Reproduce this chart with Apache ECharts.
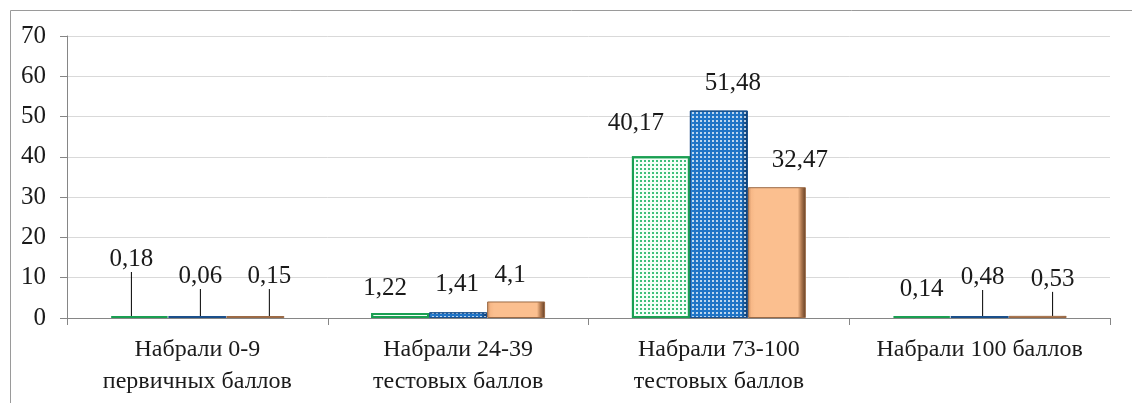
<!DOCTYPE html>
<html>
<head>
<meta charset="utf-8">
<script src="https://cdn.jsdelivr.net/npm/echarts@6/dist/echarts.min.js"></script>
<style>
html,body{margin:0;padding:0;background:#fff;}
#chart{width:1132px;height:403px;}
</style>
</head>
<body>
<div id="chart"></div>
<script>
// ---- data ----
const categories = ['Набрали 0-9\nпервичных баллов', 'Набрали 24-39\nтестовых баллов', 'Набрали 73-100\nтестовых баллов', 'Набрали 100 баллов'];
const seriesGreen = [0.18, 1.22, 40.17, 0.14];
const seriesBlue = [0.06, 1.41, 51.48, 0.48];
const seriesOrange = [0.15, 4.1, 32.47, 0.53];
const yTicks = [0, 10, 20, 30, 40, 50, 60, 70];

// ---- label placement (style, not data) ----
const labelOffsets = [
  [[-8,-39],[-15,-7],[-25,-15],[0,-9]],
  [[3,-22],[-1,-10],[14,-10],[3,-21]],
  [[14,-22],[-6,-9],[23,-9],[15,-19]]
];
const labelLines = [
  [true,false,false,false],
  [true,false,false,true],
  [true,false,false,true]
];

const FONT = '"Liberation Serif", "Times New Roman", serif';
const fmt = v => String(v).replace('.', ',');

function mkData(values, si) {
  return values.map((v, i) => ({
    value: v,
    labelLine: { show: labelLines[si][i] }
  }));
}

const chart = echarts.init(document.getElementById('chart'), null, { renderer: 'canvas' });

const commonLabel = {
  show: true,
  position: 'top',
  distance: 5,
  fontFamily: FONT,
  fontSize: 25,
  color: '#1a1a1a',
  formatter: p => fmt(p.value)
};
const commonLabelLine = { show: false, lineStyle: { color: '#000', width: 1 } };

const option = {
  animation: false,
  backgroundColor: '#ffffff',
  graphic: [
    { type: 'line', shape: { x1: 10.5, y1: 10.5, x2: 1132, y2: 10.5 }, style: { stroke: '#9a9a9a', lineWidth: 1 } },
    { type: 'line', shape: { x1: 10.5, y1: 10.5, x2: 10.5, y2: 403 }, style: { stroke: '#9a9a9a', lineWidth: 1 } }
  ],
  grid: { left: 67, right: 22, top: 36, bottom: 85, containLabel: false },
  xAxis: {
    type: 'category',
    data: categories,
    axisLine: { lineStyle: { color: '#868686', width: 1 } },
    axisTick: { show: true, alignWithLabel: false, length: 7, lineStyle: { color: '#868686' } },
    axisLabel: { fontFamily: FONT, fontSize: 24, color: '#1a1a1a', margin: 16, lineHeight: 32, interval: 0 }
  },
  yAxis: {
    type: 'value',
    min: yTicks[0],
    max: yTicks[yTicks.length - 1],
    interval: yTicks[1] - yTicks[0],
    axisLine: { show: true, lineStyle: { color: '#868686', width: 1 } },
    axisTick: { show: true, length: 7, lineStyle: { color: '#868686' } },
    axisLabel: { fontFamily: FONT, fontSize: 25, color: '#1a1a1a', margin: 21 },
    splitLine: { lineStyle: { color: '#d9d9d9', width: 1 } }
  },
  labelLayout: function (params) {
    const o = labelOffsets[params.seriesIndex][params.dataIndex];
    return { dx: o[0], dy: o[1] };
  },
  series: [
    {
      type: 'bar',
      name: 'green',
      data: mkData(seriesGreen, 0),
      barGap: '0%',
      barCategoryGap: '33.3%',
      barMinHeight: 2,
      itemStyle: {
        color: '#f4fff8',
        borderColor: '#1a9f52',
        borderWidth: 2,
        decal: {
          symbol: 'rect',
          symbolSize: 1,
          color: 'rgba(0,170,80,0.75)',
          backgroundColor: null,
          dashArrayX: [1.5, 1.5],
          dashArrayY: [1.5, 2],
          rotation: 0
        }
      },
      label: commonLabel,
      labelLine: commonLabelLine
    },
    {
      type: 'bar',
      name: 'blue',
      data: mkData(seriesBlue, 1),
      barMinHeight: 2,
      itemStyle: {
        color: {
          type: 'linear', x: 0, y: 0, x2: 1, y2: 0,
          colorStops: [
            { offset: 0, color: '#2f86d6' },
            { offset: 0.08, color: '#1f74c6' },
            { offset: 0.88, color: '#1f74c6' },
            { offset: 0.93, color: '#17589a' },
            { offset: 1, color: '#0c3566' }
          ]
        },
        borderColor: '#1a4f8a',
        borderWidth: 1,
        decal: {
          symbol: 'rect',
          symbolSize: 1,
          color: 'rgba(255,255,255,0.7)',
          backgroundColor: null,
          dashArrayX: [1.5, 2],
          dashArrayY: [1.5, 2],
          rotation: 0
        }
      },
      label: commonLabel,
      labelLine: commonLabelLine
    },
    {
      type: 'bar',
      name: 'orange',
      data: mkData(seriesOrange, 2),
      barMinHeight: 2,
      itemStyle: {
        color: {
          type: 'linear', x: 0, y: 0, x2: 1, y2: 0,
          colorStops: [
            { offset: 0, color: '#c98c60' },
            { offset: 0.06, color: '#f7b887' },
            { offset: 0.12, color: '#fbbf8f' },
            { offset: 0.86, color: '#fbbf8f' },
            { offset: 0.92, color: '#b47c52' },
            { offset: 1, color: '#5e3a22' }
          ]
        },
        borderColor: '#9c6a45',
        borderWidth: 1
      },
      label: commonLabel,
      labelLine: commonLabelLine
    }
  ]
};

chart.setOption(option);
</script>
</body>
</html>
